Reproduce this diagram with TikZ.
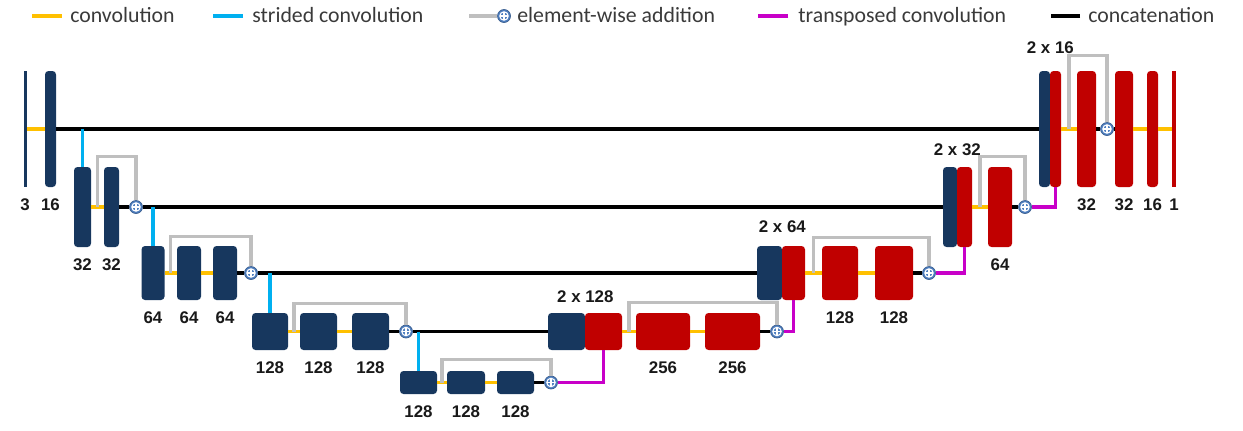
\documentclass[tikz,border=0pt]{standalone}
\usepackage{fontspec}
\setmainfont{Liberation Sans}
\newfontfamily\legfont{Carlito}
\usetikzlibrary{calc,positioning}

\definecolor{navy}{HTML}{17375E}
\definecolor{dred}{HTML}{C00000}
\definecolor{convc}{HTML}{FFC000}
\definecolor{stridec}{HTML}{00B0F0}
\definecolor{residc}{HTML}{BFBFBF}
\definecolor{transc}{HTML}{C800C8}
\definecolor{addc}{HTML}{4F7FC0}
\definecolor{legc}{HTML}{3A3A3A}

\begin{document}
\begin{tikzpicture}[x=0.02cm, y=-0.02cm, label distance=6.3pt,
    enc/.style={fill=navy, rounded corners=2pt, inner sep=0pt, minimum width=#1*0.02cm},
    dec/.style={fill=dred, rounded corners=2pt, inner sep=0pt, minimum width=#1*0.02cm},
    h0/.style={minimum height=116*0.02cm},
    h1/.style={minimum height=80*0.02cm},
    h2/.style={minimum height=54*0.02cm},
    h3/.style={minimum height=37*0.02cm},
    h4/.style={minimum height=23*0.02cm},
    conv/.style={convc, line width=1.9pt},
    stride/.style={stridec, line width=1.9pt},
    resid/.style={residc, line width=1.9pt},
    tconv/.style={transc, line width=1.9pt},
    cat/.style={black, line width=1.9pt},
    addn/.style={circle, fill=addc, draw=addc!75!black, line width=0.4pt,
        minimum size=13*0.02cm, inner sep=0pt,
        path picture={
            \draw[white, line width=0.6pt] (path picture bounding box.center) circle (2.4pt);
            \draw[white, line width=0.6pt]
                ([yshift=-2.4pt]path picture bounding box.center) -- ([yshift=2.4pt]path picture bounding box.center)
                ([xshift=-2.4pt]path picture bounding box.center) -- ([xshift=2.4pt]path picture bounding box.center);
        }},
    num/.style={font=\bfseries\fontsize{9.6}{11}\selectfont, text=black!90, inner sep=0pt},
    leg/.style={font=\legfont\fontsize{12.4}{14}\selectfont, text=legc, inner sep=0pt, anchor=base west}
]
    \useasboundingbox (0,0) rectangle (1243,430);

    % Legende
    \node[leg] (lconv) at (70,22) {convolution};
    \draw[conv] ([xshift=-4.5pt]lconv.west |- 0,16) -- ++(-30,0);
    \node[leg] (lstride) at (252,22) {strided convolution};
    \draw[stride] ([xshift=-5pt]lstride.west |- 0,16) -- ++(-30,0);
    \node[addn] (ladd) at (504,16) {};
    \draw[resid] (ladd.west) -- ++(-28,0);
    \node[leg] (laddt) at (517,22) {element-wise addition};
    \node[leg] (ltrans) at (798,22) {transposed convolution};
    \draw[tconv] ([xshift=-5.5pt]ltrans.west |- 0,16) -- ++(-30,0);
    \node[leg] (lcat) at (1088,22) {concatenation};
    \draw[cat] ([xshift=-4.5pt]lcat.west |- 0,16) -- ++(-29,0);

    % Encoder, Ebene 0
    \node[enc=3, h0, sharp corners, label={[num]below:3}] (in3) at (25,129) {};
    \node[enc=11, h0, label={[num]below:16}] (e16) at (50.5,129) {};

    % Encoder, Ebene 1
    \node[enc=17, h1, label={[num]below:32}] (e32a) at (82.5,207) {};
    \node[enc=15, h1, label={[num]below:32}] (e32b) at (111.5,207) {};
    \node[addn] (add1) at (136,207) {};

    % Encoder, Ebene 2
    \node[enc=23, h2, label={[num]below:64}] (e64a) at (153,273) {};
    \node[enc=24, h2, label={[num]below:64}] (e64b) at (189,273) {};
    \node[enc=24, h2, label={[num]below:64}] (e64c) at (225,273) {};
    \node[addn] (add2) at (251,273) {};

    % Encoder, Ebene 3
    \node[enc=36, h3, label={[num]below:128}] (e128a) at (270,331.5) {};
    \node[enc=37, h3, label={[num]below:128}] (e128b) at (318.5,331.5) {};
    \node[enc=37, h3, label={[num]below:128}] (e128c) at (370.5,331.5) {};
    \node[addn] (add3) at (406,331.5) {};

    % Boden
    \node[enc=37, h4, label={[num]below:128}] (b128a) at (418.5,382.5) {};
    \node[enc=38, h4, label={[num]below:128}] (b128b) at (466,382.5) {};
    \node[enc=37, h4, label={[num]below:128}] (b128c) at (515.5,382.5) {};
    \node[addn] (add4) at (551,382.5) {};

    % Decoder, Ebene 3
    \node[enc=37, h3] (c128n) at (566.5,331.5) {};
    \node[dec=37, h3] (c128r) at (603.5,331.5) {};
    \node[num, above=5.7pt of c128n.north east] (t128) {2 x 128};
    \node[dec=54, h3, label={[num]below:256}] (d256a) at (663,331.5) {};
    \node[dec=55, h3, label={[num]below:256}] (d256b) at (732.5,331.5) {};
    \node[addn] (add5) at (777,331.5) {};

    % Decoder, Ebene 2
    \node[enc=25, h2] (c64n) at (769.5,273) {};
    \node[dec=23, h2] (c64r) at (793.5,273) {};
    \node[num, above=7pt of c64n.north east] (t64) {2 x 64};
    \node[dec=36, h2, label={[num]below:128}] (d128a) at (840,273) {};
    \node[dec=38, h2, label={[num]below:128}] (d128b) at (894,273) {};
    \node[addn] (add6) at (929,273) {};

    % Decoder, Ebene 1
    \node[enc=14, h1] (c32n) at (950,207) {};
    \node[dec=15, h1] (c32r) at (964.5,207) {};
    \node[num, above=6.2pt of c32n.north east] (t32) {2 x 32};
    \node[dec=24, h1, label={[num]below:64}] (d64) at (1000,207) {};
    \node[addn] (add7) at (1025,207) {};

    % Decoder, Ebene 0
    \node[enc=11, h0] (c16n) at (1044.5,129) {};
    \node[dec=11, h0] (c16r) at (1055.5,129) {};
    \node[num, above=9.5pt of c16n.north east] (t16) {2 x 16};
    \node[dec=19, h0, label={[num]below:32}] (d32a) at (1086.5,129) {};
    \node[addn] (add8) at (1107,129) {};
    \node[dec=18, h0, label={[num]below:32}] (d32b) at (1124,129) {};
    \node[dec=11, h0, label={[num]below:16}] (d16) at (1152.5,129) {};
    \node[dec=4, h0, sharp corners, label={[num]below:1}] (out1) at (1174,129) {};

    % Faltungen
    \draw[conv] (in3.east) -- (e16.west);
    \draw[conv] (e32a.east) -- (e32b.west);
    \draw[conv] (e64a.east) -- (e64b.west) (e64b.east) -- (e64c.west);
    \draw[conv] (e128a.east) -- (e128b.west) (e128b.east) -- (e128c.west);
    \draw[conv] (b128a.east) -- (b128b.west) (b128b.east) -- (b128c.west);
    \draw[conv] (c128r.east) -- (d256a.west) (d256a.east) -- (d256b.west);
    \draw[conv] (c64r.east) -- (d128a.west) (d128a.east) -- (d128b.west);
    \draw[conv] (c32r.east) -- (d64.west);
    \draw[conv] (c16r.east) -- (d32a.west);
    \draw[conv] (d32b.east) -- (d16.west) (d16.east) -- (out1.west);

    % Residuen
    \draw[resid] ($(e32a.east)!.5!(e32b.west)$) |- ([yshift=5.7pt]e32b.north) -| (add1);
    \draw[resid] ($(e64a.east)!.5!(e64b.west)$) |- ([yshift=5.2pt]e64b.north) -| (add2);
    \draw[resid] ($(e128a.east)!.5!(e128b.west)$) |- ([yshift=5.2pt]e128b.north) -| (add3);
    \draw[resid] ($(b128a.east)!.5!(b128b.west)$) |- ([yshift=6.2pt]b128b.north) -| (add4);
    \draw[resid] ($(c128r.east)!.5!(d256a.west)$) |- ([yshift=5.7pt]d256a.north) -| (add5);
    \draw[resid] ($(c64r.east)!.5!(d128a.west)$) |- ([yshift=4.8pt]d128a.north) -| (add6);
    \draw[resid] ($(c32r.east)!.5!(d64.west)$) |- ([yshift=5.7pt]d64.north) -| (add7);
    \draw[resid] ($(c16r.east)!.5!(d32a.west)$) |- ([yshift=8.5pt]d32a.north) -| (add8);

    % Verkettungen
    \draw[cat] (e16.east) -- (c16n.west);
    \draw[cat] (e32b.east) -- (add1) -- (c32n.west);
    \draw[cat] (e64c.east) -- (add2) -- (c64n.west);
    \draw[cat] (e128c.east) -- (add3) -- (c128n.west);
    \draw[cat] (b128c.east) -- (add4);
    \draw[cat] (d256b.east) -- (add5);
    \draw[cat] (d128b.east) -- (add6);
    \draw[cat] (d64.east) -- (add7);
    \draw[cat] (d32a.east) -- (add8) -- (d32b.west);

    % Strided
    \draw[stride] (e32a.north |- e16.east) -- (e32a.north);
    \draw[stride] (e64a.north |- add1.east) -- (e64a.north);
    \draw[stride] (e128a.north |- add2.east) -- (e128a.north);
    \draw[stride] (b128a.north |- add3.east) -- (b128a.north);

    % Transponiert
    \draw[tconv] (add4) -| (c128r.south);
    \draw[tconv] (add5) -| (c64r.south);
    \draw[tconv] (add6) -| (c32r.south);
    \draw[tconv] (add7) -| (c16r.south);
\end{tikzpicture}
\end{document}
